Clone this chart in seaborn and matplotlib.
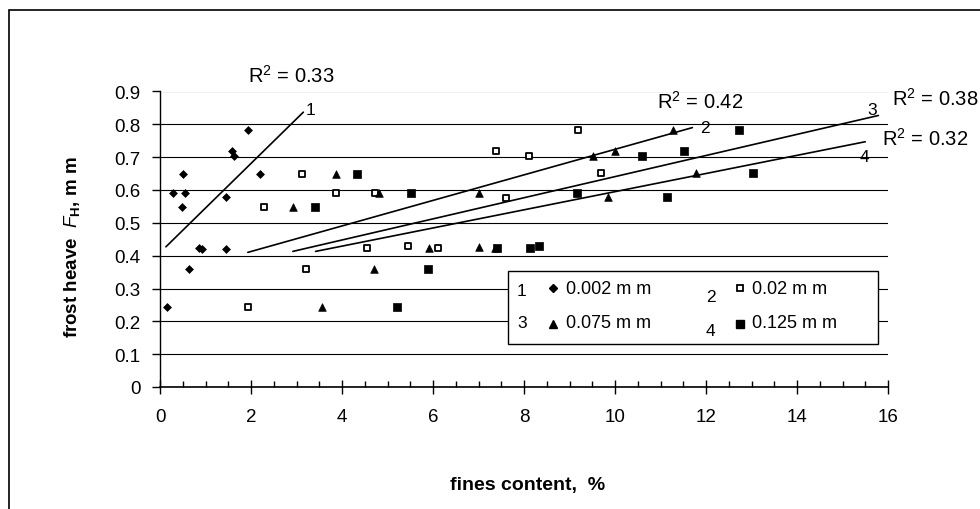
import numpy as np
import pandas as pd
import matplotlib
matplotlib.use("Agg")
import matplotlib.pyplot as plt
import seaborn as sns
from matplotlib.lines import Line2D
from matplotlib.patches import Rectangle
from matplotlib.ticker import MultipleLocator

# ---------------- data ----------------
fines_002 = [0.15, 0.29, 0.50, 0.48, 0.55, 0.64, 0.86, 0.92, 1.45, 1.45, 1.59, 1.63, 1.93, 2.20]
heave_002 = [0.245, 0.59, 0.65, 0.547, 0.59, 0.358, 0.424, 0.42, 0.579, 0.42, 0.72, 0.703, 0.784, 0.65]

fines_02 = [1.94, 2.29, 3.11, 3.21, 3.87, 4.56, 4.73, 5.44, 6.10, 7.38, 7.60, 8.10, 9.19, 9.69]
heave_02 = [0.243, 0.547, 0.65, 0.358, 0.59, 0.423, 0.59, 0.428, 0.423, 0.718, 0.577, 0.705, 0.783, 0.652]

fines_075 = [2.93, 3.57, 3.87, 4.71, 4.82, 5.92, 7.00, 7.00, 7.36, 9.52, 9.84, 9.99, 11.28, 11.78]
heave_075 = [0.547, 0.243, 0.65, 0.358, 0.59, 0.424, 0.59, 0.427, 0.423, 0.703, 0.579, 0.718, 0.782, 0.652]

fines_125 = [3.41, 4.34, 5.20, 5.51, 5.88, 7.41, 8.13, 8.34, 9.16, 10.60, 11.14, 11.52, 12.73, 13.04]
heave_125 = [0.547, 0.65, 0.244, 0.59, 0.358, 0.423, 0.423, 0.428, 0.59, 0.704, 0.579, 0.718, 0.782, 0.652]

series_labels = ["0.002 m m", "0.02 m m", "0.075 m m", "0.125 m m"]
series_numbers = ["1", "2", "3", "4"]

# trend lines (start/end as drawn in the reference)
trend_x_start = [0.13, 1.93, 2.92, 3.42]
trend_x_end = [3.15, 11.70, 15.79, 15.50]
trend_y_start = [0.427, 0.410, 0.413, 0.413]
trend_y_end = [0.837, 0.790, 0.827, 0.747]
r2_values = ["0.33", "0.42", "0.38", "0.32"]

x_ticks = [0, 2, 4, 6, 8, 10, 12, 14, 16]
y_ticks = [0, 0.1, 0.2, 0.3, 0.4, 0.5, 0.6, 0.7, 0.8, 0.9]
y_tick_labels = ["0", "0.1", "0.2", "0.3", "0.4", "0.5", "0.6", "0.7", "0.8", "0.9"]

# ---------------- styling ----------------
sns.set_theme(style="white")
plt.rcParams["font.family"] = ["Liberation Sans", "DejaVu Sans"]
plt.rcParams["mathtext.fontset"] = "custom"
plt.rcParams["mathtext.rm"] = "Liberation Sans"
plt.rcParams["mathtext.it"] = "Liberation Sans:italic"
plt.rcParams["mathtext.bf"] = "Liberation Sans:bold"
for k in ["text.color", "axes.labelcolor", "xtick.color", "ytick.color", "axes.edgecolor"]:
    plt.rcParams[k] = "black"

W, H = 980, 510
fig = plt.figure(figsize=(W / 100, H / 100), dpi=100)
ax = fig.add_axes([160 / W, 1 - 388 / H, 728 / W, (388 - 92.5) / H])

frames = [
    pd.DataFrame({"fines": fines_002, "heave": heave_002}),
    pd.DataFrame({"fines": fines_02, "heave": heave_02}),
    pd.DataFrame({"fines": fines_075, "heave": heave_075}),
    pd.DataFrame({"fines": fines_125, "heave": heave_125}),
]
marker_styles = [
    dict(marker="D", s=16, color="black", edgecolor="black", linewidth=0.5),
    dict(marker="s", s=22, facecolor="white", edgecolor="black", linewidth=1.3),
    dict(marker="^", s=30, color="black", edgecolor="black", linewidth=0.5),
    dict(marker="s", s=34, color="black", edgecolor="black", linewidth=0.5),
]

# trend lines
for i in range(4):
    tdf = pd.DataFrame({"fines": [trend_x_start[i], trend_x_end[i]],
                        "heave": [trend_y_start[i], trend_y_end[i]]})
    sns.lineplot(data=tdf, x="fines", y="heave", ax=ax, color="black",
                 linewidth=1.2, zorder=3, legend=False)

# points
for df, st in zip(frames, marker_styles):
    sns.scatterplot(data=df, x="fines", y="heave", ax=ax, zorder=4, legend=False, **st)

ax.set_xlim(0, 16)
ax.set_ylim(0, 0.9)
ax.set_xticks(x_ticks)
ax.set_xticklabels([str(t) for t in x_ticks])
ax.xaxis.set_minor_locator(MultipleLocator(0.5))
ax.set_yticks(y_ticks)
ax.set_yticklabels(y_tick_labels)

ax.yaxis.grid(True, color="black", linewidth=0.8)
ax.set_axisbelow(True)
for side in ["top", "right"]:
    ax.spines[side].set_visible(False)
ax.spines["left"].set_color("black")
ax.spines["left"].set_linewidth(1.0)
ax.spines["bottom"].set_color("black")
ax.spines["bottom"].set_linewidth(1.2)

ax.tick_params(axis="x", which="major", bottom=True, direction="inout", length=10,
               width=1, labelsize=13.5, pad=10)
ax.tick_params(axis="x", which="minor", bottom=True, direction="in", length=4, width=1)
ax.tick_params(axis="y", which="major", left=True, direction="out", length=6,
               width=1, labelsize=13.5, pad=8)

ax.set_xlabel("fines content,  %", fontsize=14, fontweight="bold")
ax.xaxis.set_label_coords(0.505, -0.301)
ax.set_ylabel(r"frost heave  $\mathit{F}_{\mathbf{H}}$, m m", fontsize=13.5, fontweight="bold")
ax.yaxis.set_label_coords(-0.107, 0.477)

# R^2 labels and line numbers
r2_pos = [(1.93, 0.952), (10.92, 0.870), (16.09, 0.882), (15.87, 0.760)]
for (xx, yy), r2 in zip(r2_pos, r2_values):
    ax.text(xx, yy, r"R$^2$ = " + r2, fontsize=14.5, ha="left", va="center", clip_on=False)
num_pos = [(3.20, 0.845), (11.87, 0.790), (15.54, 0.845), (15.38, 0.703)]
for (xx, yy), n in zip(num_pos, series_numbers):
    ax.text(xx, yy, n, fontsize=12.5, ha="left", va="center", clip_on=False)

# legend box
def fx(px):
    return px / W

def fy(py):
    return 1 - py / H

fig.add_artist(Rectangle((fx(508), fy(345)), fx(878) - fx(508), fy(272) - fy(345),
                         transform=fig.transFigure, facecolor="white", edgecolor="black",
                         linewidth=1.0, zorder=5))
leg_num_xy = [(517, 292), (706, 297), (517, 324), (706, 331)]
leg_mark_xy = [(553, 289), (740, 289), (553, 325), (740, 325)]
leg_text_xy = [(566, 289), (752, 289), (566, 324), (752, 324)]
leg_marker_kw = [
    dict(marker="D", markersize=4.0, markerfacecolor="black", markeredgecolor="black"),
    dict(marker="s", markersize=4.5, markerfacecolor="white", markeredgecolor="black", markeredgewidth=1.3),
    dict(marker="^", markersize=5.5, markerfacecolor="black", markeredgecolor="black"),
    dict(marker="s", markersize=5.5, markerfacecolor="black", markeredgecolor="black"),
]
for i in range(4):
    nx, ny = leg_num_xy[i]
    fig.text(fx(nx), fy(ny), series_numbers[i], fontsize=12.5, ha="left", va="center", zorder=6)
    mx, my = leg_mark_xy[i]
    fig.add_artist(Line2D([fx(mx)], [fy(my)], transform=fig.transFigure, linestyle="none",
                          zorder=6, **leg_marker_kw[i]))
    tx, ty = leg_text_xy[i]
    fig.text(fx(tx), fy(ty), series_labels[i], fontsize=13, ha="left", va="center", zorder=6)

# outer chart frame (clipped at right and bottom like the reference)
fig.add_artist(Rectangle((fx(9), -0.2), 1.5, fy(11) + 0.2, transform=fig.transFigure,
                         fill=False, edgecolor="black", linewidth=1.2, zorder=10))

fig.savefig("out.png", dpi=100, facecolor="white")
